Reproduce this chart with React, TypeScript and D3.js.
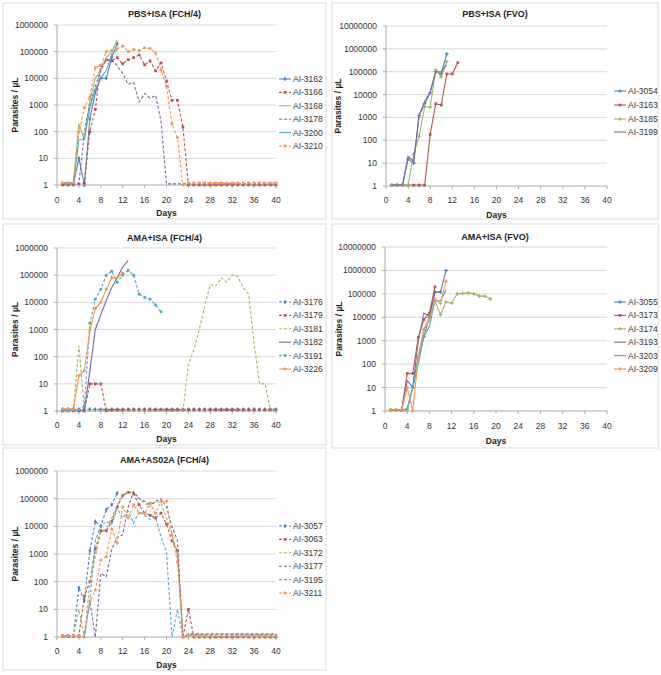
import React from "react"
import * as d3 from "d3"

// Excel-style palette
const BLUE = "#4F81BD"
const RED = "#C0504D"
const GREEN = "#9BBB59"
const PURPLE = "#8064A2"
const AQUA = "#4BACC6"
const ORANGE = "#F79646"

const xTicks = [0, 4, 8, 12, 16, 20, 24, 28, 32, 36, 40]

// values per day, starting at day 1
// PBS+ISA (FCH/4)
const s3162 = [1.1, 1.1, 1.1, 10, 1, 300, 3000, 10000, 10000, 60000, 200000]
const s3166 = [1, 1, 1, 1.1, 1.2, 100, 700, 30000, 50000, 45000, 60000, 35000, 50000, 60000, 75000, 32000, 45000, 19000, 38000, 8000, 1500, 1500, 150, 1, 1, 1, 1, 1, 1, 1, 1, 1, 1, 1, 1, 1, 1, 1, 1, 1]
const s3168 = [1.2, 1.2, 1.2, 200, 50, 1500, 10000, 20000, 60000, 100000, 280000]
const s3178 = [1.1, 1.1, 1.1, 1.1, 100, 1000, 5000, 20000, 50000, 50000, 30000, 15000, 6000, 7000, 1300, 2700, 1800, 2300, 250, 1.1, 1.1, 1.1, 1.1, 1.1, 1.1, 1.1, 1.1, 1.1, 1.1, 1.1, 1.1, 1.1, 1.1, 1.1, 1.1, 1.1, 1.1, 1.1, 1.1, 1.1]
const s3200 = [1.2, 1.2, 1.2, 50, 50, 800, 4000, 10000, 20000, 80000, 120000]
const s3210 = [1.2, 1.2, 1.2, 100, 800, 2000, 25000, 30000, 100000, 110000, 130000, 160000, 100000, 120000, 110000, 140000, 130000, 90000, 20000, 5000, 200, 60, 1, 1.2, 1.2, 1.2, 1.2, 1.2, 1.2, 1.2, 1.2, 1.2, 1.2, 1.2, 1.2, 1.2, 1.2, 1.2, 1.2, 1.2]

// PBS+ISA (FVO)
const s3054 = [1.1, 1.1, 1.1, 15, 10, 1200, 4000, 12000, 100000, 80000, 600000]
const s3163 = [1.1, 1.1, 1.1, 1.1, 1.1, 1.1, 1.1, 180, 4000, 3500, 80000, 80000, 250000]
const s3185 = [1.1, 1.1, 1.1, 1.1, 25, 150, 3000, 2800, 120000, 60000, 280000]
const s3199 = [1.1, 1.1, 1.1, 20, 12, 1300, 5000, 13000, 100000, 100000, 200000]

// AMA+ISA (FCH/4)
const s3176 = [1.15, 1.15, 1.15, 1.15, 1.15, 1.15, 1.15, 1.15, 1.15, 1.15, 1.15, 1.15, 1.15, 1.15, 1.15, 1.15, 1.15, 1.15, 1.15, 1.15, 1.15, 1.15, 1.15, 1.15, 1.15, 1.15, 1.15, 1.15, 1.15, 1.15, 1.15, 1.15, 1.15, 1.15, 1.15, 1.15, 1.15, 1.15, 1.15, 1.15]
const s3179 = [1, 1, 1, 1, 1, 10, 10, 10, 1, 1.1, 1.1, 1.1, 1.1, 1.1, 1.1, 1.1, 1.1, 1.1, 1.1, 1.1, 1.1, 1.1, 1.1, 1.1, 1.1, 1.1, 1.1, 1.1, 1.1, 1.1, 1.1, 1.1, 1.1, 1.1, 1.1, 1.1, 1.1, 1.1, 1.1, 1.1]
const s3181 = [1, 1, 1, 250, 1, 1, 1, 1, 1, 1, 1, 1, 1, 1, 1, 1, 1, 1, 1, 1, 1, 1, 1, 50, 180, 1000, 8000, 45000, 40000, 80000, 55000, 100000, 90000, 35000, 20000, 300, 10, 10, 1, 1]
const s3182 = [1.1, 1.1, 1.1, 1.1, 1, 30, 1000, 3500, 12000, 35000, 80000, 200000, 350000]
const s3191 = [1.1, 1.1, 1.1, 1.1, 1.5, 1700, 13000, 30000, 100000, 140000, 55000, 100000, 150000, 100000, 20000, 15000, 13000, 8000, 4500]
const s3226 = [1.2, 1.2, 1.2, 20, 30, 900, 6000, 10000, 30000, 80000, 80000, 120000]

// AMA+ISA (FVO)
const s3055 = [1.1, 1.1, 1.1, 1.2, 10, 200, 1500, 10000, 120000, 120000, 1000000]
const s3173 = [1.1, 1.1, 1.1, 40, 40, 1400, 8000, 15000, 200000]
const s3174 = [1.1, 1.1, 1.1, 1.1, 10, 200, 3000, 8000, 50000, 13000, 45000, 40000, 100000, 105000, 110000, 100000, 80000, 80000, 60000]
const s3193 = [1.1, 1.1, 1.1, 20, 10, 1000, 15000, 12000, 120000, 120000]
const s3203 = [1.1, 1.1, 1.1, 1.2, 10, 100, 1500, 4000, 50000, 50000, 150000]
const s3209 = [1.1, 1.1, 1.1, 10, 1, 200, 3000, 8000, 60000, 40000, 350000]

// AMA+AS02A (FCH/4)
const s3057 = [1.1, 1.1, 1.1, 60, 20, 1300, 15000, 10000, 40000, 60000, 160000]
const s3063 = [1.1, 1.1, 1.1, 1.1, 30, 100, 1500, 7000, 7000, 15000, 50000, 130000, 170000, 150000, 60000, 30000, 25000, 20000, 30000, 12000, 3000, 1300, 1, 10, 1, 1, 1, 1, 1, 1, 1, 1, 1, 1, 1, 1, 1, 1, 1, 1]
const s3172 = [1.1, 1.1, 1.1, 10, 1, 100, 800, 6000, 8000, 20000, 60000, 150000, 170000, 170000, 100000, 70000, 50000, 80000, 70000, 20000, 5000, 1000, 1, 1.3, 1.3, 1.3, 1.3, 1.3, 1.3, 1.3, 1.3, 1.3, 1.3, 1.3, 1.3, 1.3, 1.3, 1.3, 1.3, 1.3]
const s3177 = [1, 1, 1, 1, 1, 20, 1, 200, 150, 1500, 4000, 5000, 50000, 180000, 100000, 80000, 60000, 80000, 100000, 50000, 10000, 3000, 1, 1.2, 1.2, 1.2, 1.2, 1.2, 1.2, 1.2, 1.2, 1.2, 1.2, 1.2, 1.2, 1.2, 1.2, 1.2, 1.2, 1.2]
const s3195 = [1.1, 1.1, 1.1, 1.1, 1.2, 20, 3000, 10000, 15000, 12000, 45000, 20000, 35000, 13000, 35000, 25000, 18000, 22000, 4000, 1200, 1, 10, 1, 1.3, 1.3, 1.3, 1.3, 1.3, 1.3, 1.3, 1.3, 1.3, 1.3, 1.3, 1.3, 1.3, 1.3, 1.3, 1.3, 1.3]
const s3211 = [1.1, 1.1, 1.1, 1.1, 1, 20, 50, 600, 800, 8000, 2500, 50000, 20000, 60000, 30000, 30000, 70000, 30000, 80000, 80000, 5000, 500, 1, 1.1, 1.1, 1.1, 1.1, 1.1, 1.1, 1.1, 1.1, 1.1, 1.1, 1.1, 1.1, 1.1, 1.1, 1.1, 1.1, 1.1]

type Series = {
  name: string
  values: number[]
  color: string
  dash?: boolean
  marker?: d3.SymbolType
}

type PanelProps = {
  box: [number, number, number, number]
  plot: [number, number, number, number]
  title: string
  titleY: number
  tickY: number
  daysY: number
  topExp: number
  yLabelX: number
  legendX: number
  legendY: number[]
  series: Series[]
}

const FONT = "'Liberation Sans', Arial, sans-serif"
const GRID = "#d9d9d9"

const Panel = (p: PanelProps) => {
  const [l, t, r, b] = p.plot
  const x = d3.scaleLinear().domain([0, 40]).range([l, r])
  const y = d3.scaleLog().domain([1, 10 ** p.topExp]).range([b, t])
  const yTicks = d3.range(0, p.topExp + 1).map((e) => 10 ** e)
  const line = d3
    .line<number>()
    .x((_, i) => x(i + 1))
    .y((v) => y(v))

  return (
    <g>
      <rect x={p.box[0]} y={p.box[1]} width={p.box[2]} height={p.box[3]} fill="#fff" stroke={GRID} strokeWidth={1} />
      <text x={p.box[0] + p.box[2] / 2} y={p.titleY} textAnchor="middle" dominantBaseline="central" fontSize={9} fontWeight="bold" fill="#222">
        {p.title}
      </text>
      {yTicks.map((v) => (
        <g key={v}>
          {v > 1 && <line x1={l} x2={r} y1={y(v)} y2={y(v)} stroke={GRID} />}
          <line x1={l - 3} x2={l} y1={y(v)} y2={y(v)} stroke="#aaa" />
          <text x={l - 9} y={y(v)} textAnchor="end" dominantBaseline="central" fontSize={8.5} fill="#333">
            {String(v)}
          </text>
        </g>
      ))}
      <line x1={l} x2={l} y1={t} y2={b} stroke="#aaa" />
      <line x1={l} x2={r} y1={b} y2={b} stroke="#aaa" />
      {xTicks.map((v) => (
        <g key={v}>
          <line x1={x(v)} x2={x(v)} y1={b} y2={b + 3} stroke="#aaa" />
          <text x={x(v)} y={p.tickY} textAnchor="middle" dominantBaseline="central" fontSize={8.5} fill="#333">
            {v}
          </text>
        </g>
      ))}
      <text x={(l + r) / 2} y={p.daysY} textAnchor="middle" dominantBaseline="central" fontSize={8.5} fontWeight="bold" fill="#222">
        Days
      </text>
      <text
        transform={`translate(${p.yLabelX},${(t + b) / 2}) rotate(-90)`}
        textAnchor="middle"
        dominantBaseline="central"
        fontSize={8.5}
        fontWeight="bold"
        fill="#222"
      >
        Parasites / µL
      </text>
      {p.series.map((s) => (
        <g key={s.name}>
          <path d={line(s.values) || ""} fill="none" stroke={s.color} strokeWidth={1.1} strokeDasharray={s.dash ? "3,2" : undefined} />
          {s.marker &&
            s.values.map((v, i) => (
              <path key={i} d={d3.symbol().type(s.marker!).size(7)() || ""} transform={`translate(${x(i + 1)},${y(v)})`} fill={s.color} />
            ))}
        </g>
      ))}
      {p.series.map((s, i) => (
        <g key={s.name} transform={`translate(${p.legendX},${p.legendY[i]})`}>
          <line x1={0} x2={12} y1={0} y2={0} stroke={s.color} strokeWidth={1.1} strokeDasharray={s.dash ? "3,2" : undefined} />
          {s.marker && <path d={d3.symbol().type(s.marker).size(7)() || ""} transform="translate(6,0)" fill={s.color} />}
          <text x={14} y={0} dominantBaseline="central" fontSize={8.5} fill="#333">
            {s.name}
          </text>
        </g>
      ))}
    </g>
  )
}

const legend6 = (y0: number) => [0, 1, 2, 3, 4, 5].map((i) => y0 + i * 13.4)

export default function App() {
  return (
    <svg width={661} height={675} style={{ position: "absolute", left: 0, top: 0, fontFamily: FONT, background: "#fff" }}>
      <Panel
        box={[3, 3, 323, 216]}
        plot={[57, 25, 276, 185]}
        title="PBS+ISA (FCH/4)"
        titleY={14}
        tickY={200}
        daysY={213}
        topExp={6}
        yLabelX={15}
        legendX={279}
        legendY={legend6(79)}
        series={[
          { name: "AI-3162", values: s3162, color: BLUE, marker: d3.symbolDiamond },
          { name: "AI-3166", values: s3166, color: RED, dash: true, marker: d3.symbolSquare },
          { name: "AI-3168", values: s3168, color: GREEN },
          { name: "AI-3178", values: s3178, color: PURPLE, dash: true },
          { name: "AI-3200", values: s3200, color: AQUA },
          { name: "AI-3210", values: s3210, color: ORANGE, dash: true, marker: d3.symbolCircle },
        ]}
      />
      <Panel
        box={[332, 3, 326, 216]}
        plot={[386, 26, 607, 186]}
        title="PBS+ISA (FVO)"
        titleY={14}
        tickY={200}
        daysY={215}
        topExp={7}
        yLabelX={338}
        legendX={614}
        legendY={[91, 105, 119, 132]}
        series={[
          { name: "AI-3054", values: s3054, color: BLUE, marker: d3.symbolCross },
          { name: "AI-3163", values: s3163, color: RED, marker: d3.symbolSquare },
          { name: "AI-3185", values: s3185, color: GREEN, marker: d3.symbolCross },
          { name: "AI-3199", values: s3199, color: PURPLE },
        ]}
      />
      <Panel
        box={[3, 224, 323, 221]}
        plot={[57, 248, 276, 411]}
        title="AMA+ISA (FCH/4)"
        titleY={238}
        tickY={425}
        daysY={439}
        topExp={6}
        yLabelX={15}
        legendX={279}
        legendY={legend6(302)}
        series={[
          { name: "AI-3176", values: s3176, color: BLUE, dash: true, marker: d3.symbolDiamond },
          { name: "AI-3179", values: s3179, color: RED, dash: true, marker: d3.symbolSquare },
          { name: "AI-3181", values: s3181, color: GREEN, dash: true },
          { name: "AI-3182", values: s3182, color: PURPLE },
          { name: "AI-3191", values: s3191, color: AQUA, dash: true, marker: d3.symbolCircle },
          { name: "AI-3226", values: s3226, color: ORANGE, marker: d3.symbolCircle },
        ]}
      />
      <Panel
        box={[332, 224, 326, 224]}
        plot={[385, 247, 607, 411]}
        title="AMA+ISA (FVO)"
        titleY={237}
        tickY={426}
        daysY={441}
        topExp={7}
        yLabelX={339}
        legendX={614}
        legendY={legend6(302)}
        series={[
          { name: "AI-3055", values: s3055, color: BLUE, marker: d3.symbolCross },
          { name: "AI-3173", values: s3173, color: RED, marker: d3.symbolSquare },
          { name: "AI-3174", values: s3174, color: GREEN, marker: d3.symbolCross },
          { name: "AI-3193", values: s3193, color: PURPLE },
          { name: "AI-3203", values: s3203, color: AQUA },
          { name: "AI-3209", values: s3209, color: ORANGE, marker: d3.symbolCross },
        ]}
      />
      <Panel
        box={[3, 448, 323, 222]}
        plot={[57, 471, 276, 637]}
        title="AMA+AS02A (FCH/4)"
        titleY={460}
        tickY={651}
        daysY={665}
        topExp={6}
        yLabelX={15}
        legendX={279}
        legendY={legend6(526)}
        series={[
          { name: "AI-3057", values: s3057, color: BLUE, dash: true, marker: d3.symbolDiamond },
          { name: "AI-3063", values: s3063, color: RED, dash: true, marker: d3.symbolSquare },
          { name: "AI-3172", values: s3172, color: GREEN, dash: true },
          { name: "AI-3177", values: s3177, color: PURPLE, dash: true },
          { name: "AI-3195", values: s3195, color: AQUA, dash: true },
          { name: "AI-3211", values: s3211, color: ORANGE, dash: true, marker: d3.symbolCircle },
        ]}
      />
    </svg>
  )
}
